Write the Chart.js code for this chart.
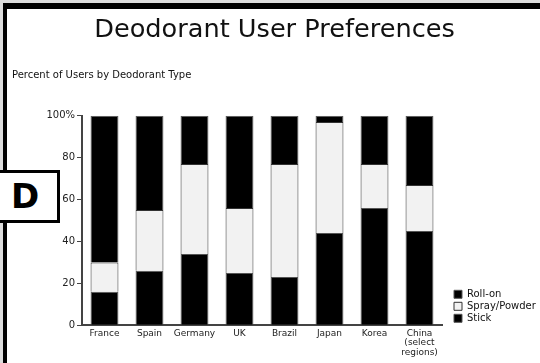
<!DOCTYPE html>
<html>
<head>
<meta charset="utf-8">
<script src="https://cdn.jsdelivr.net/npm/chart.js@4"></script>
<style>
  body { margin: 0; background: #dcdcdc; width: 540px; height: 363px; overflow: hidden; position: relative; }
  #frame { position: absolute; left: 3px; top: 3px; width: 600px; height: 420px; background: #fff;
           border-left: 4px solid #000; border-top: 6px solid #000; }
  #wrap { position: absolute; left: 0; top: 0; width: 540px; height: 363px; }
  #tag { position: absolute; left: -10px; top: 170px; width: 64px; height: 47px; background: #fff;
         border: 3px solid #000; font: bold 34px "DejaVu Sans"; line-height: 47px; text-align: center; color: #000; }
</style>
</head>
<body>
<div id="frame"></div>
<div id="wrap"><canvas id="deoChart" width="540" height="363"></canvas></div>
<div id="tag">D</div>
<script>
var countries = ["France", "Spain", "Germany", "UK", "Brazil", "Japan", "Korea", ["China", "(select", "regions)"]];
var stick = [16, 26, 34, 25, 23, 44, 56, 45];
var sprayPowder = [14, 29, 43, 31, 54, 53, 21, 22];
var rollOn = [70, 45, 23, 44, 23, 3, 23, 33];
var yTickLabels = ["0", "20", "40", "60", "80", "100%"];

var ctx = document.getElementById('deoChart').getContext('2d');
var chart = new Chart(ctx, {
    type: 'bar',
    data: {
        labels: countries,
        datasets: [
            { label: "Stick", data: stick, backgroundColor: '#000', borderColor: '#555', borderWidth: 1 },
            { label: "Spray/Powder", data: sprayPowder, backgroundColor: '#f2f2f2', borderColor: '#333', borderWidth: 1 },
            { label: "Roll-on", data: rollOn, backgroundColor: '#000', borderColor: '#555', borderWidth: 1 }
        ]
    },
    options: {
        responsive: false,
        animation: false,
        barPercentage: 0.62,
        categoryPercentage: 1,
        layout: { padding: { left: 12, top: 15, right: 3, bottom: 2 } },
        plugins: {
            title: {
                display: true,
                text: 'Deodorant User Preferences',
                color: '#111',
                font: { family: 'DejaVu Sans', size: 25.6, weight: 'normal', lineHeight: 1.2 },
                padding: { top: 0, bottom: 24 }
            },
            subtitle: {
                display: true,
                text: 'Percent of Users by Deodorant Type',
                align: 'start',
                color: '#111',
                font: { family: 'DejaVu Sans', size: 10, lineHeight: 1.2 },
                padding: { top: 0, bottom: 34 }
            },
            legend: {
                position: 'right',
                align: 'end',
                fullSize: false,
                reverse: true,
                maxWidth: 85,
                labels: {
                    boxWidth: 8,
                    boxHeight: 8,
                    padding: 2,
                    color: '#111',
                    font: { family: 'DejaVu Sans', size: 10 }
                }
            },
            tooltip: { enabled: false }
        },
        scales: {
            x: {
                stacked: true,
                grid: { display: false, drawTicks: false },
                border: { display: true, color: '#444', width: 2 },
                ticks: {
                    color: '#222',
                    padding: 3,
                    maxRotation: 0,
                    autoSkip: false,
                    font: { family: 'DejaVu Sans', size: 9, lineHeight: 1.1 }
                }
            },
            y: {
                stacked: true,
                min: 0,
                max: 100,
                afterFit: function (s) { s.width = 70; },
                grid: { drawOnChartArea: false, drawTicks: true, tickLength: 5, color: '#444' },
                border: { display: true, color: '#444', width: 2 },
                ticks: {
                    stepSize: 20,
                    padding: 2,
                    color: '#222',
                    font: { family: 'DejaVu Sans', size: 10 },
                    callback: function (value, index) { return yTickLabels[index]; }
                }
            },
            gap: {
                type: 'linear',
                position: 'right',
                afterFit: function (s) { s.width = 10; },
                grid: { display: false, drawTicks: false },
                border: { display: false },
                ticks: { display: false }
            }
        }
    }
});
</script>
</body>
</html>
